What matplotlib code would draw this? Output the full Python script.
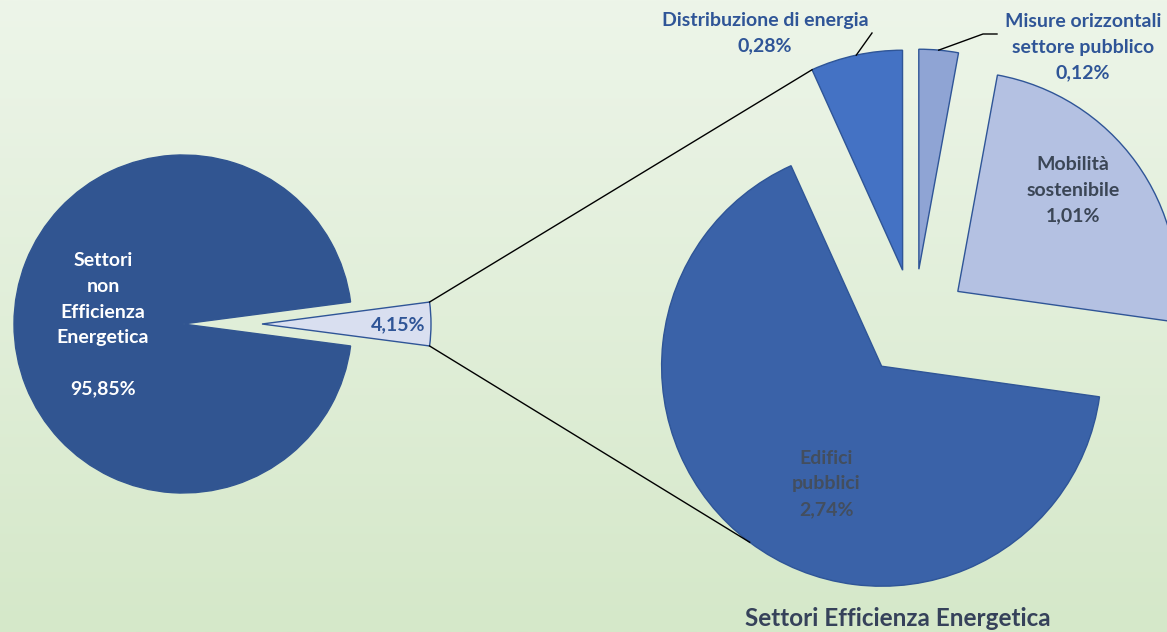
import numpy as np
import matplotlib
matplotlib.use("Agg")
import matplotlib.pyplot as plt

plt.rcParams['font.family'] = ['Lato', 'DejaVu Sans']
plt.rcParams['font.weight'] = 'bold'

# primary pie (share of total)
main_labels = ['Settori Efficienza Energetica', 'Settori\nnon\nEfficienza\nEnergetica']
main_values = [4.15, 95.85]
main_text = ['4,15%', '95,85%']

# secondary pie (split of the 4,15%)
sub_labels = ['Mobilità\nsostenibile', 'Misure orizzontali\nsettore pubblico',
              'Distribuzione di energia', 'Edifici\npubblici']
sub_values = [1.01, 0.12, 0.28, 2.74]
sub_text = ['1,01%', '0,12%', '0,28%', '2,74%']

W, H = 1167, 632
fig = plt.figure(figsize=(W / 100, H / 100), dpi=100)

# background gradient
bg = fig.add_axes([0, 0, 1, 1])
grad = np.linspace(0, 1, 256)[:, None]
top = np.array([237, 245, 233]) / 255
bot = np.array([213, 232, 201]) / 255
img = top[None, None, :] * (1 - grad[..., None]) + bot[None, None, :] * grad[..., None]
bg.imshow(img, aspect='auto', extent=[0, 1, 0, 1])
bg.axis('off')

ax = fig.add_axes([0, 0, 1, 1])
ax.set_facecolor('none')

# left pie
c1, r1 = (183, 308), 169
ang1 = main_values[0] / sum(main_values) * 360
w1, _ = ax.pie(main_values, radius=r1, center=c1, startangle=-ang1 / 2,
               explode=[79, 0], colors=['#d9dff0', '#315591'],
               wedgeprops=dict(linewidth=1))
w1[0].set_edgecolor('#2f5597')
w1[1].set_edgecolor('#315591')

# right pie
c2, r2, ex2 = (914, 309), 220, 54
w2, _ = ax.pie(sub_values, radius=r2, center=c2, startangle=-8,
               explode=[ex2] * 4,
               colors=['#b4c1e2', '#8fa4d4', '#4472c4', '#3a62a8'],
               wedgeprops=dict(edgecolor='#2f5597', linewidth=1))

ax.set_xlim(0, W)
ax.set_ylim(0, H)
ax.set_aspect('equal')
ax.axis('off')


def arc_point(w, ang=None, extra=0):
    a = np.deg2rad(ang if ang is not None else (w.theta1 + w.theta2) / 2)
    cx, cy = w.center
    return cx + (w.r + extra) * np.cos(a), cy + (w.r + extra) * np.sin(a)


# connector lines
small = w1[0]
p_top = arc_point(small, small.theta2)
p_bot = arc_point(small, small.theta1)
q_top = arc_point(w2[2], w2[2].theta2)
q_bot = arc_point(w2[3])
ax.plot([p_top[0], q_top[0]], [p_top[1], q_top[1]], color='black', lw=1)
ax.plot([p_bot[0], q_bot[0]], [p_bot[1], q_bot[1]], color='black', lw=1)

blue = '#2f5597'
dark = '#3b4656'
fs = 14
ls = 1.62

# left labels
ax.text(103, 632 - 325, main_labels[1] + '\n\n' + main_text[1], color='white',
        fontsize=fs, ha='center', va='center', linespacing=ls)
ax.text(398, 632 - 325, main_text[0], color=blue, fontsize=fs,
        ha='center', va='center')

# right labels
ax.text(1073, 632 - 190, sub_labels[0] + '\n' + sub_text[0], color=dark,
        fontsize=fs, ha='center', va='center', linespacing=ls)
ax.text(826, 632 - 484, sub_labels[3] + '\n' + sub_text[3], color='#434e5e',
        fontsize=fs, ha='center', va='center', linespacing=ls)

# distribuzione with leader
d0 = arc_point(w2[2])
ax.plot([d0[0], 872], [d0[1], 632 - 33], color='black', lw=1)
ax.text(765, 632 - 33, sub_labels[2] + '\n' + sub_text[2], color=blue,
        fontsize=fs, ha='center', va='center', linespacing=ls)

# misure with leader
m0 = arc_point(w2[1])
ax.plot([m0[0], 983, 997], [m0[1], 632 - 34, 632 - 34], color='black', lw=1)
ax.text(1083, 632 - 47, sub_labels[1] + '\n' + sub_text[1], color=blue,
        fontsize=fs, ha='center', va='center', linespacing=ls)

# title of the secondary pie
ax.text(898, 632 - 618, main_labels[0], color='#36425a', fontsize=17.5,
        ha='center', va='center')

fig.savefig('out.png', dpi=100)
